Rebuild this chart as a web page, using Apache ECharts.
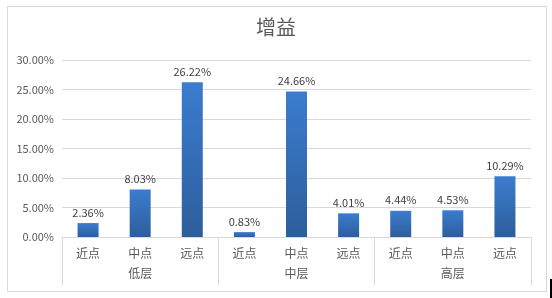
<!DOCTYPE html>
<html>
<head>
<meta charset="utf-8">
<script src="https://cdn.jsdelivr.net/npm/echarts@6/dist/echarts.min.js"></script>
<style>html,body{margin:0;padding:0;background:#fff;}#c{width:552px;height:298px;}</style>
</head>
<body>
<div id="c"></div>
<script>
var titleText = '增益';
var categories = ['近点','中点','远点','近点','中点','远点','近点','中点','远点'];
var groups = ['低层','中层','高层'];
var values = [2.36, 8.03, 26.22, 0.83, 24.66, 4.01, 4.44, 4.53, 10.29];
var yTicks = [0, 5, 10, 15, 20, 25, 30];

var font = '"Noto Sans CJK SC", "Microsoft YaHei", sans-serif';
var chart = echarts.init(document.getElementById('c'), null, {renderer: 'canvas'});
chart.setOption({
  animation: false,
  title: {
    text: titleText, left: 'center', top: 12,
    textStyle: {fontFamily: font, fontSize: 20, fontWeight: 'normal', color: '#595959'}
  },
  grid: {left: 62, right: 21, top: 60, bottom: 61, containLabel: false},
  graphic: [
    {type: 'rect', shape: {x: 7.5, y: 6.5, width: 539, height: 285}, style: {fill: 'none', stroke: '#d9d9d9', lineWidth: 1}, z: -1},
    {type: 'rect', shape: {x: 550, y: 279, width: 2, height: 19}, style: {fill: '#000'}}
  ],
  xAxis: [
    {
      type: 'category', data: categories, position: 'bottom',
      axisLine: {show: true, lineStyle: {color: '#d9d9d9'}},
      axisTick: {show: false},
      axisLabel: {interval: 0, margin: 10, color: '#595959', fontSize: 12, fontFamily: font}
    },
    {
      type: 'category', data: groups, position: 'bottom', offset: 0,
      axisLine: {show: false},
      axisTick: {show: true, length: 48, interval: 0, lineStyle: {color: '#d9d9d9'}},
      axisLabel: {interval: 0, margin: 30, color: '#595959', fontSize: 12, fontFamily: font}
    }
  ],
  yAxis: {
    type: 'value', min: 0, max: 30, interval: 5,
    axisLine: {show: false}, axisTick: {show: false},
    splitLine: {lineStyle: {color: '#d9d9d9'}},
    axisLabel: {color: '#595959', fontSize: 11, fontFamily: font, margin: 8,
      formatter: function (v) { return v.toFixed(2) + '%'; }}
  },
  series: [{
    type: 'bar', data: values, xAxisIndex: 0, barWidth: 21,
    itemStyle: {
      color: new echarts.graphic.LinearGradient(0, 0, 0, 1, [
        {offset: 0, color: '#3b7ccf'},
        {offset: 1, color: '#2d5e9c'}
      ])
    },
    label: {
      show: true, position: 'top', distance: 5, color: '#404040', fontSize: 11, fontFamily: font,
      formatter: function (p) { return p.value.toFixed(2) + '%'; }
    }
  }]
});
</script>
</body>
</html>
